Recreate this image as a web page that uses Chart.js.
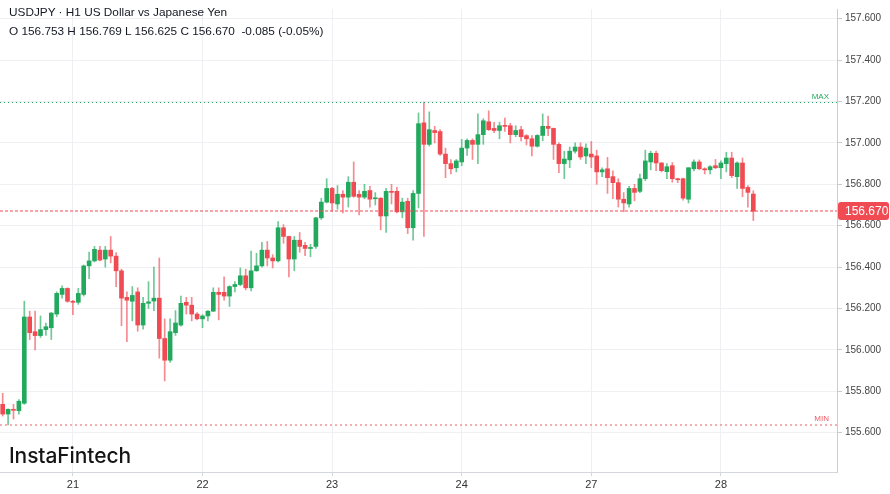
<!DOCTYPE html>
<html>
<head>
<meta charset="utf-8">
<script src="https://cdn.jsdelivr.net/npm/chart.js@4.4.1/dist/chart.umd.min.js"></script>
<style>
  html, body { margin: 0; padding: 0; background: #fff; }
  #wrap { position: relative; width: 890px; height: 494px; }
  canvas { display: block; }
  .hdr { position: absolute; left: 9px; font: 11.8px 'Liberation Sans', Arial, sans-serif; color: #131722; white-space: pre; }
  .logo { position: absolute; left: 9px; top: 443px; font: 500 21px Inter, 'Noto Sans', sans-serif; color: #141414; letter-spacing: -0.1px; }
</style>
</head>
<body>
<div id="wrap">
  <canvas id="fx" width="890" height="494"></canvas>
  <div class="hdr" style="top:5px">USDJPY · H1 US Dollar vs Japanese Yen</div>
  <div class="hdr" style="top:24px">O 156.753 H 156.769 L 156.625 C 156.670  -0.085 (-0.05%)</div>
  <div class="logo">InstaFintech</div>
</div>
<script>
// hourly candles, first one is the 20th at 11:00
const days = ['20', '21', '22', '23', '24', '27', '28'];
const firstHour = 11;
const emptySlots = 15;

const opens = [
  155.737, 155.690, 155.713, 155.706, 155.742, 156.159, 156.088, 156.069, 156.098, 156.107,
  156.173, 156.268, 156.297, 156.235, 156.230, 156.268, 156.406, 156.430, 156.482, 156.439,
  156.482, 156.453, 156.382, 156.254, 156.235, 156.280, 156.120, 156.225, 156.236, 156.250,
  156.055, 155.950, 156.083, 156.120, 156.230, 156.216, 156.173, 156.150, 156.164, 156.187,
  156.278, 156.278, 156.260, 156.306, 156.316, 156.358, 156.300, 156.382, 156.406, 156.482,
  156.444, 156.430, 156.590, 156.548, 156.439, 156.530, 156.505, 156.490, 156.500, 156.638,
  156.714, 156.780, 156.705, 156.752, 156.738, 156.810, 156.752, 156.738, 156.770, 156.730,
  156.733, 156.647, 156.766, 156.766, 156.667, 156.718, 156.590, 156.756, 157.097, 156.993,
  157.060, 157.055, 156.946, 156.900, 156.880, 156.908, 156.975, 157.012, 156.993, 157.040,
  157.102, 157.070, 157.060, 157.085, 157.083, 157.040, 157.064, 157.035, 157.020, 156.984,
  157.036, 157.080, 157.070, 156.993, 156.900, 156.918, 156.960, 156.980, 156.937, 156.946,
  156.937, 156.860, 156.875, 156.837, 156.808, 156.728, 156.705, 156.780, 156.766, 156.827,
  156.908, 156.950, 156.903, 156.861, 156.890, 156.827, 156.827, 156.728, 156.875, 156.908,
  156.875, 156.870, 156.890, 156.880, 156.900, 156.927, 156.837, 156.903, 156.785, 156.753
];
const highs = [
  155.790, 155.715, 155.737, 155.760, 156.235, 156.187, 156.187, 156.164, 156.130, 156.180,
  156.280, 156.310, 156.300, 156.240, 156.297, 156.410, 156.472, 156.500, 156.500, 156.500,
  156.548, 156.470, 156.390, 156.280, 156.306, 156.300, 156.254, 156.330, 156.400, 156.444,
  156.150, 156.150, 156.190, 156.260, 156.254, 156.254, 156.180, 156.170, 156.190, 156.300,
  156.300, 156.353, 156.310, 156.330, 156.396, 156.390, 156.477, 156.467, 156.520, 156.524,
  156.460, 156.620, 156.605, 156.550, 156.548, 156.567, 156.520, 156.510, 156.640, 156.733,
  156.827, 156.785, 156.794, 156.770, 156.837, 156.908, 156.770, 156.800, 156.790, 156.760,
  156.735, 156.780, 156.800, 156.785, 156.733, 156.733, 156.770, 157.145, 157.197, 157.150,
  157.080, 157.065, 156.975, 156.920, 156.920, 157.017, 157.020, 157.020, 157.140, 157.117,
  157.155, 157.100, 157.100, 157.120, 157.095, 157.083, 157.080, 157.040, 157.035, 157.040,
  157.140, 157.130, 157.072, 157.000, 156.960, 156.980, 157.000, 157.000, 156.995, 157.007,
  156.965, 156.880, 156.930, 156.865, 156.827, 156.760, 156.790, 156.800, 156.850, 156.965,
  156.960, 156.960, 156.905, 156.900, 156.905, 156.830, 156.830, 156.880, 156.918, 156.918,
  156.880, 156.890, 156.920, 156.913, 156.955, 156.955, 156.908, 156.927, 156.794, 156.769
];
const lows = [
  155.680, 155.638, 155.666, 155.690, 155.737, 156.050, 156.000, 156.060, 156.070, 156.050,
  156.160, 156.250, 156.230, 156.170, 156.220, 156.260, 156.344, 156.425, 156.430, 156.400,
  156.420, 156.306, 156.117, 156.040, 156.140, 156.090, 156.100, 156.200, 156.190, 155.960,
  155.850, 155.940, 156.070, 156.115, 156.173, 156.140, 156.145, 156.107, 156.140, 156.185,
  156.145, 156.240, 156.210, 156.280, 156.310, 156.290, 156.285, 156.380, 156.400, 156.406,
  156.396, 156.425, 156.515, 156.353, 156.382, 156.472, 156.455, 156.450, 156.490, 156.630,
  156.710, 156.670, 156.680, 156.662, 156.690, 156.737, 156.652, 156.730, 156.690, 156.700,
  156.580, 156.567, 156.705, 156.662, 156.638, 156.562, 156.530, 156.686, 156.548, 156.985,
  157.000, 156.940, 156.832, 156.850, 156.860, 156.890, 156.940, 156.920, 156.900, 156.993,
  157.060, 157.050, 157.020, 157.055, 157.000, 157.030, 157.010, 156.990, 156.937, 156.980,
  157.010, 157.035, 156.920, 156.856, 156.827, 156.880, 156.950, 156.920, 156.900, 156.880,
  156.800, 156.837, 156.756, 156.730, 156.690, 156.667, 156.690, 156.720, 156.760, 156.818,
  156.870, 156.866, 156.860, 156.827, 156.810, 156.808, 156.723, 156.710, 156.865, 156.870,
  156.850, 156.850, 156.875, 156.827, 156.860, 156.832, 156.780, 156.740, 156.690, 156.625
];
const closes = [
  155.690, 155.713, 155.708, 155.752, 156.159, 156.083, 156.069, 156.098, 156.112, 156.178,
  156.273, 156.297, 156.235, 156.230, 156.273, 156.406, 156.430, 156.486, 156.434, 156.482,
  156.453, 156.382, 156.250, 156.240, 156.263, 156.120, 156.225, 156.232, 156.250, 156.055,
  155.950, 156.088, 156.130, 156.225, 156.216, 156.173, 156.150, 156.164, 156.187, 156.278,
  156.268, 156.260, 156.306, 156.316, 156.358, 156.300, 156.382, 156.406, 156.482, 156.444,
  156.430, 156.590, 156.548, 156.439, 156.530, 156.500, 156.490, 156.495, 156.638, 156.714,
  156.780, 156.710, 156.752, 156.738, 156.810, 156.742, 156.738, 156.766, 156.728, 156.733,
  156.647, 156.766, 156.761, 156.667, 156.714, 156.590, 156.756, 157.093, 156.993, 157.064,
  157.050, 156.946, 156.900, 156.875, 156.913, 156.975, 157.012, 156.993, 157.040, 157.107,
  157.064, 157.060, 157.083, 157.080, 157.040, 157.060, 157.030, 157.020, 156.984, 157.036,
  157.080, 157.070, 156.993, 156.900, 156.922, 156.960, 156.980, 156.932, 156.975, 156.932,
  156.860, 156.870, 156.832, 156.808, 156.728, 156.710, 156.780, 156.761, 156.827, 156.913,
  156.950, 156.903, 156.866, 156.885, 156.827, 156.822, 156.733, 156.880, 156.908, 156.875,
  156.870, 156.885, 156.880, 156.903, 156.927, 156.842, 156.903, 156.780, 156.761, 156.670
];

const upColor = '#22a95e';
const downColor = '#f04b53';
const upWick = 'rgba(34,169,94,0.65)';
const downWick = 'rgba(240,75,83,0.65)';

// hourly category labels, with a few empty hours to the right
const labels = [];
let d = 0, h = firstHour;
for (let i = 0; i < opens.length + emptySlots; i++) {
  labels.push(days[Math.min(d, days.length - 1)] + ' ' + String(h).padStart(2, '0') + ':00');
  h++;
  if (h === 24) { h = 0; d++; }
}

const isUp = closes.map((c, i) => c >= opens[i]);

const levels = {
  id: 'levels',
  afterDatasetsDraw(chart) {
    const ctx = chart.ctx, a = chart.chartArea, y = chart.scales.y;
    const top = Math.max(...highs), bottom = Math.min(...lows), last = closes[closes.length - 1];
    ctx.save();
    ctx.lineWidth = 1;
    // max / min
    [[top, '#22a95e', 'MAX', [1, 3], 0.5], [bottom, '#f25a62', 'MIN', [2, 3], 0]].forEach(([v, col, txt, dash, off]) => {
      const py = Math.round(y.getPixelForValue(v)) + off;
      ctx.strokeStyle = col;
      ctx.setLineDash(dash);
      ctx.beginPath(); ctx.moveTo(a.left, py); ctx.lineTo(a.right, py); ctx.stroke();
      ctx.fillStyle = col;
      ctx.font = '8px "Liberation Sans", Arial, sans-serif';
      ctx.textAlign = 'right';
      ctx.textBaseline = 'bottom';
      ctx.fillText(txt, a.right - 8, py - 2);
    });
    // last price
    const ly = Math.round(y.getPixelForValue(last));
    ctx.strokeStyle = '#f04b53';
    ctx.setLineDash([3, 2]);
    ctx.beginPath(); ctx.moveTo(a.left, ly); ctx.lineTo(a.right, ly); ctx.stroke();
    ctx.restore();
  },
  afterDraw(chart) {
    const ctx = chart.ctx, a = chart.chartArea, y = chart.scales.y;
    const last = closes[closes.length - 1];
    const ly = Math.round(y.getPixelForValue(last));
    ctx.save();
    ctx.fillStyle = '#f04b53';
    ctx.beginPath();
    ctx.roundRect(a.right + 1, ly - 9, 51, 18, 3);
    ctx.fill();
    ctx.fillStyle = '#fff';
    ctx.font = '12px "Liberation Sans", Arial, sans-serif';
    ctx.textAlign = 'left';
    ctx.textBaseline = 'middle';
    ctx.fillText(last.toFixed(3), a.right + 8, ly + 1);
    ctx.restore();
  }
};

new Chart('fx', {
  type: 'bar',
  data: {
    labels: labels,
    datasets: [
      {
        label: 'bodies',
        data: opens.map((o, i) => [o, closes[i]]),
        backgroundColor: isUp.map(u => u ? upColor : downColor),
        barThickness: 4,
        minBarLength: 1,
        grouped: false,
        order: 1
      },
      {
        label: 'wicks',
        data: lows.map((l, i) => [l, highs[i]]),
        backgroundColor: isUp.map(u => u ? upWick : downWick),
        barThickness: 1,
        grouped: false,
        order: 2
      }
    ]
  },
  plugins: [levels],
  options: {
    responsive: false,
    animation: false,
    layout: { padding: 0 },
    plugins: { legend: { display: false }, tooltip: { enabled: false } },
    scales: {
      x: {
        offset: true,
        grid: { offset: false, color: '#eef0f4', tickLength: 4, tickColor: '#d4d7dd' },
        border: { color: '#d4d7dd' },
        ticks: {
          autoSkip: false,
          maxRotation: 0,
          padding: 2,
          color: '#333',
          font: { family: 'Liberation Sans', size: 11 },
          callback(value) {
            const lab = this.getLabelForValue(value);
            return lab.endsWith(' 00:00') ? lab.split(' ')[0] : null;
          }
        },
        afterFit(scale) { scale.height = 22; }
      },
      y: {
        position: 'right',
        min: 155.41,
        max: 157.647,
        grid: { color: '#eef0f4', tickLength: 5, tickColor: '#c9ccd2' },
        border: { color: '#c9ccd2' },
        ticks: {
          stepSize: 0.2,
          includeBounds: false,
          padding: 3,
          color: '#444',
          font: { family: 'Liberation Sans', size: 10 },
          callback: v => v.toFixed(3)
        },
        afterFit(scale) { scale.width = 53; }
      }
    }
  }
});
</script>
</body>
</html>
